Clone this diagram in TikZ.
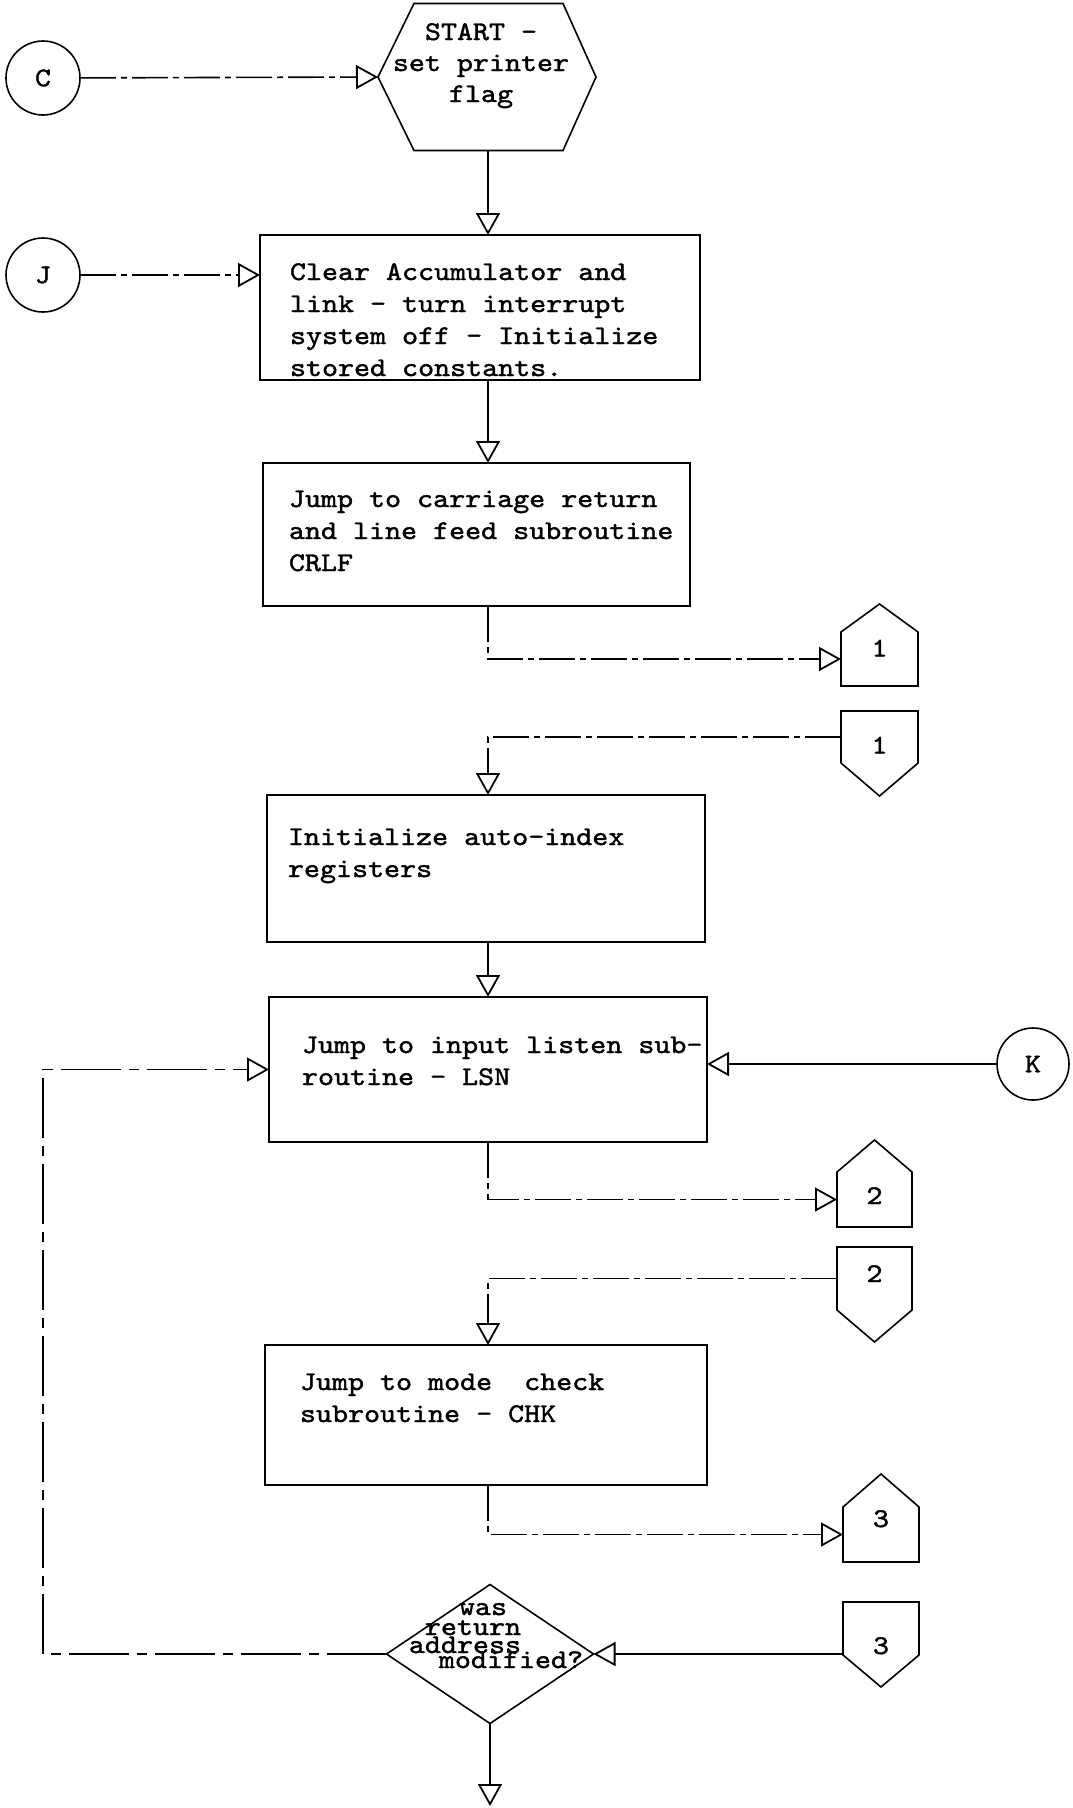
\documentclass[tikz,border=0pt]{standalone}
\usepackage{fontspec}
\usetikzlibrary{arrows.meta}
\newfontfamily\tw{lmmono10-regular.otf}[FakeStretch=1.13,FakeBold=1.5]
\newcommand\mytab[2]{\begin{tabular}[t]{@{}#1@{}}#2\end{tabular}}
\begin{document}
\begin{tikzpicture}[x=1pt,y=-1pt,
  line width=1.6pt,
  every node/.style={inner sep=0pt, outer sep=0pt},
  twf/.style={font={\tw\fontsize{27}{32}\selectfont}},
  frame/.style 2 args={draw, rectangle, minimum width=#1, minimum height=#2},
  blank/.style 2 args={rectangle, minimum width=#1, minimum height=#2},
  conbody/.style 2 args={twf, rectangle, minimum width=#1, minimum height=#2, text height=17pt, text depth=0pt},
  ring/.style={draw, circle, minimum size=74pt, twf},
  txt/.style={twf, anchor=base west},
  arr/.style={-{Triangle[open,length=22pt,width=24pt,line width=1.8pt]}},
  link/.style={arr, dash pattern=on 36pt off 5pt on 6pt off 5pt},
  backlink/.style={arr, dash pattern=on 60pt off 8pt on 10pt off 8pt}]
\useasboundingbox[fill=white] (0,0) rectangle (1072,1808);
\coordinate (ax) at (488,0);
\coordinate (lx) at (43,0);
\coordinate (exit) at (490,1806);

% connectors (circles)
\node[ring] (C) at (43,78) {C};
\node[ring] (J) at (43,275) {J};
\node[ring, minimum size=72pt] (K) at (1033,1064) {K};

% start hexagon
\node[blank={218pt}{147pt}] (hex) at (487,77) {};
\draw (hex.west) -- ([xshift=36pt]hex.north west) -- ([xshift=-33pt]hex.north east) -- (hex.east)
  -- ([xshift=-33pt]hex.south east) -- ([xshift=36pt]hex.south west) -- cycle;
\node[twf, anchor=base, font={\tw\fontsize{27}{31}\selectfont}] (hext) at (481,40) {\mytab{c}{START -\\set printer\\flag}};

% process boxes
\node[frame={440pt}{145pt}] (b1) at (480,307.5) {};
\node[txt] (t1) at (290,280) {\mytab{l}{Clear Accumulator and\\link - turn interrupt\\system off - Initialize\\stored constants.}};

\node[frame={427pt}{143pt}] (b2) at (476.5,534.5) {};
\node[txt] (t2) at (289,507) {\mytab{l}{Jump to carriage return\\and line feed subroutine\\CRLF}};

\node[frame={438pt}{147pt}] (b3) at (486,868.5) {};
\node[txt] (t3) at (288,845) {\mytab{l}{Initialize auto-index\\registers}};

\node[frame={438pt}{145pt}] (b4) at (488,1069.5) {};
\node[txt] (t4) at (302,1053) {\mytab{l}{Jump to input listen sub-\\routine - LSN}};

\node[frame={442pt}{140pt}] (b5) at (486,1415) {};
\node[txt] (t5) at (300,1390) {\mytab{l}{Jump to mode\ \ check\\subroutine - CHK}};

% off-page connectors
\node[conbody={77pt}{54pt}] (c1u) at (879.5,659) {\raisebox{11pt}{1}};
\draw (c1u.south west) -- (c1u.north west) -- ([yshift=28pt]c1u.north) -- (c1u.north east) -- (c1u.south east) -- cycle;
\node[conbody={77pt}{52pt}] (c1d) at (879.5,737) {\raisebox{-8pt}{1}};
\draw (c1d.north west) -- (c1d.south west) -- ([yshift=-33pt]c1d.south) -- (c1d.south east) -- (c1d.north east) -- cycle;

\node[conbody={75pt}{55pt}] (c2u) at (874.5,1199.5) {\raisebox{4pt}{2}};
\draw (c2u.south west) -- (c2u.north west) -- ([yshift=32pt]c2u.north) -- (c2u.north east) -- (c2u.south east) -- cycle;
\node[conbody={75pt}{63pt}] (c2d) at (874.5,1278.5) {\raisebox{5pt}{2}};
\draw (c2d.north west) -- (c2d.south west) -- ([yshift=-32pt]c2d.south) -- (c2d.south east) -- (c2d.north east) -- cycle;

\node[conbody={76pt}{55pt}] (c3u) at (881,1534.5) {\raisebox{16pt}{3}};
\draw (c3u.south west) -- (c3u.north west) -- ([yshift=33pt]c3u.north) -- (c3u.north east) -- (c3u.south east) -- cycle;
\node[conbody={76pt}{53pt}] (c3d) at (881,1628.5) {\raisebox{-17pt}{3}};
\draw (c3d.north west) -- (c3d.south west) -- ([yshift=-32pt]c3d.south) -- (c3d.south east) -- (c3d.north east) -- cycle;

% decision
\node[blank={207pt}{139pt}] (dia) at (490,1654) {};
\draw (dia.north) -- (dia.east) -- (dia.south) -- (dia.west) -- cycle;
\node[twf, anchor=base] (dq1) at (483,1615) {was};
\node[twf, anchor=base] (dq2) at (473,1635) {return};
\node[twf, anchor=base] (dq3) at (465,1653) {address};
\node[twf, anchor=base] (dq4) at (511,1668) {modified?};

% flow lines
\draw[link] (C) -- (hex.west);
\draw[link] (J) -- (J -| b1.west);
\draw[arr] (hex.south -| ax) -- (b1.north -| ax);
\draw[arr] (b1.south -| ax) -- (b2.north -| ax);
\draw[link] (b2.south -| ax) |- (c1u.west);
\draw[link] (c1d.west) -| (b3.north -| ax);
\draw[arr] (b3.south -| ax) -- (b4.north -| ax);
\draw[link] (b4.south -| ax) |- (c2u.west);
\draw[link] (c2d.west) -| (b5.north -| ax);
\draw[link] (b5.south -| ax) |- (c3u.west);
\draw[arr] (c3d.west |- dia.east) -- (dia.east);
\draw[arr] (K) -- (K -| b4.east);
\draw[backlink] (dia.west) -- (dia.west -| lx) -- (b4.west -| lx) -- (b4.west);
\draw[arr] (dia.south) -- (exit);
\end{tikzpicture}
\end{document}
